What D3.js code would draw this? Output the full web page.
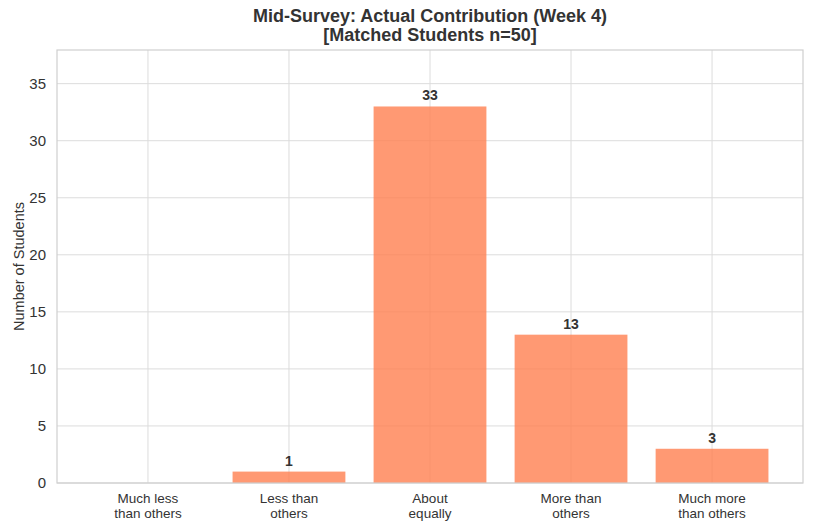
<!DOCTYPE html>
<html>
<head>
<meta charset="utf-8">
<script src="https://cdn.jsdelivr.net/npm/d3@7"></script>
<style>
  body { margin: 0; background: #fff; }
  text { font-family: "Liberation Sans", Arial, sans-serif; }
</style>
</head>
<body>
<svg id="chart" width="814" height="524"></svg>
<script>
const categories = [["Much less", "than others"], ["Less than", "others"], ["About", "equally"], ["More than", "others"], ["Much more", "than others"]];
const counts = [0, 1, 33, 13, 3];
const yTicks = [0, 5, 10, 15, 20, 25, 30, 35];

var svg = d3.select("#chart"),
    margin = {top: 50, right: 11, bottom: 41, left: 57},
    width = +svg.attr("width") - margin.left - margin.right,
    height = +svg.attr("height") - margin.top - margin.bottom;

var x = d3.scaleLinear()
    .domain([-0.645, counts.length - 1 + 0.645])
    .range([0, width]);

var y = d3.scaleLinear()
    .domain([0, d3.max(counts) * 1.15])
    .range([height, 0]);

var bw = x(0.8) - x(0);

var g = svg.append("g")
    .attr("transform", "translate(" + margin.left + "," + margin.top + ")");

// grid
g.append("g").selectAll("line").data(yTicks).enter().append("line")
    .attr("x1", 0).attr("x2", width)
    .attr("y1", d => y(d)).attr("y2", d => y(d))
    .attr("stroke", "#dcdcdc").attr("stroke-width", 1);

g.append("g").selectAll("line").data(counts).enter().append("line")
    .attr("x1", (d, i) => x(i)).attr("x2", (d, i) => x(i))
    .attr("y1", 0).attr("y2", height)
    .attr("stroke", "#dcdcdc").attr("stroke-width", 1);

// bars
g.append("g").selectAll("rect").data(counts).enter().append("rect")
    .attr("x", (d, i) => x(i) - bw / 2)
    .attr("width", bw)
    .attr("y", d => y(d))
    .attr("height", d => height - y(d))
    .attr("fill", "coral")
    .attr("fill-opacity", 0.8);

// value labels (skip zero bars)
g.append("g").selectAll("text").data(counts).enter().append("text")
    .attr("x", (d, i) => x(i))
    .attr("y", d => y(d) - 6)
    .attr("text-anchor", "middle")
    .style("font-size", "14px")
    .style("font-weight", "bold")
    .style("fill", "#333")
    .text(d => d > 0 ? d : "");

// frame
g.append("rect")
    .attr("width", width).attr("height", height)
    .attr("fill", "none").attr("stroke", "#cfcfcf").attr("stroke-width", 1.2);

// y ticks
g.append("g").selectAll("text").data(yTicks).enter().append("text")
    .attr("x", -11)
    .attr("y", d => y(d))
    .attr("dy", "0.35em")
    .attr("text-anchor", "end")
    .style("font-size", "15px")
    .style("fill", "#333")
    .text(d => d);

// x ticks
var xt = g.append("g").selectAll("text").data(categories).enter().append("text")
    .attr("x", (d, i) => x(i))
    .attr("y", height + 20)
    .attr("text-anchor", "middle")
    .style("font-size", "13.5px")
    .style("fill", "#333");
xt.each(function(d, i) {
  var t = d3.select(this);
  d.forEach((line, k) => {
    t.append("tspan").attr("x", x(i)).attr("dy", k === 0 ? 0 : "1.12em").text(line);
  });
});

// y label
svg.append("text")
    .attr("transform", "translate(24," + (margin.top + height / 2) + ") rotate(-90)")
    .attr("text-anchor", "middle")
    .style("font-size", "14.5px")
    .style("fill", "#333")
    .text("Number of Students");

// title
svg.append("text")
    .attr("x", margin.left + width / 2)
    .attr("y", 22)
    .attr("text-anchor", "middle")
    .style("font-size", "18px")
    .style("font-weight", "bold")
    .style("fill", "#333")
    .text("Mid-Survey: Actual Contribution (Week 4)");
svg.append("text")
    .attr("x", margin.left + width / 2)
    .attr("y", 41)
    .attr("text-anchor", "middle")
    .style("font-size", "18px")
    .style("font-weight", "bold")
    .style("fill", "#333")
    .text("[Matched Students n=50]");
</script>
</body>
</html>
